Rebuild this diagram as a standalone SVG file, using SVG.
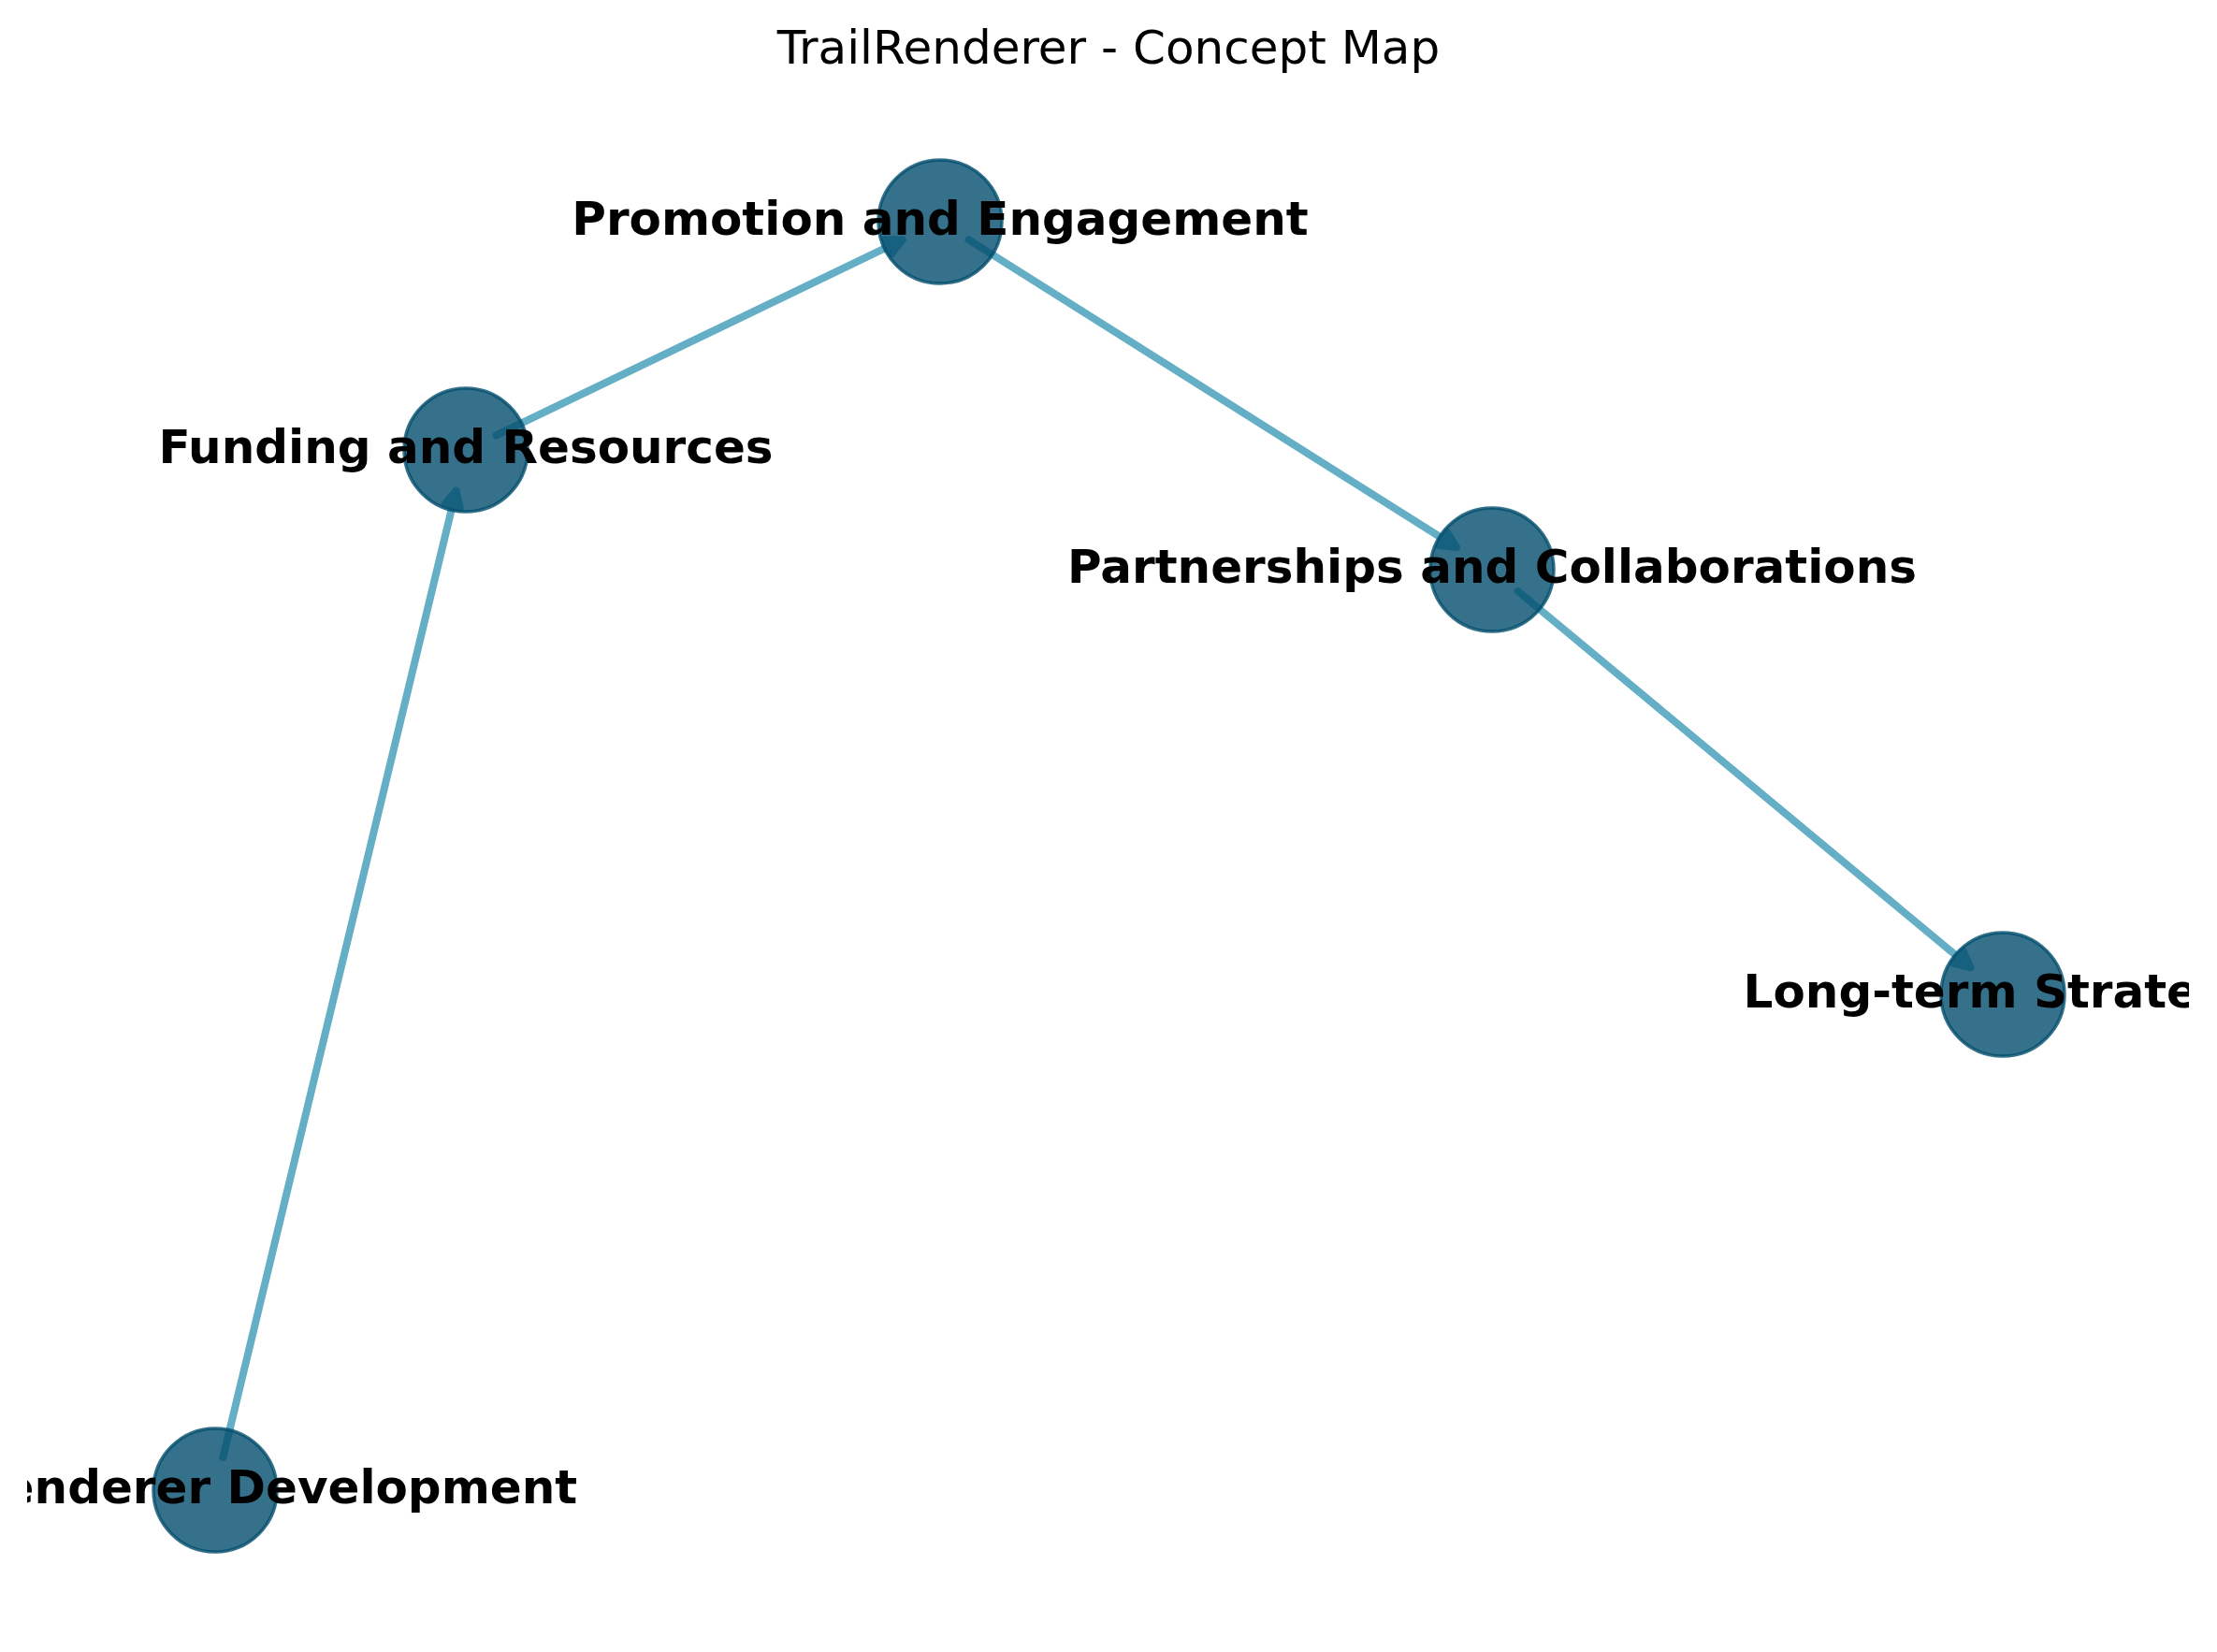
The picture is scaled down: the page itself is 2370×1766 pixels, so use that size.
<svg xmlns="http://www.w3.org/2000/svg" width="2370" height="1766" viewBox="0 0 2370 1766">
  <style>
    .edge { fill: none; stroke: #64aec6; stroke-width: 8; stroke-linecap: round; }
    .node { fill: #024e6d; fill-opacity: 0.8; stroke: #024e6d; stroke-opacity: 0.8; stroke-width: 3.5; }
    .label { font-family: "DejaVu Sans", "Liberation Sans", sans-serif; font-weight: bold; font-size: 50px; fill: #000; text-anchor: middle; }
    .title { font-family: "DejaVu Sans", "Liberation Sans", sans-serif; font-size: 50px; fill: #000; text-anchor: middle; }
  </style>
  <defs>
    <marker id="ah" markerUnits="userSpaceOnUse" orient="auto" markerWidth="40" markerHeight="40" refX="16.7" refY="0" overflow="visible">
      <path d="M0,-8.3 L16.7,0 L0,8.3 Z" fill="#64aec6" stroke="#64aec6" stroke-width="8" stroke-linejoin="round"/>
    </marker>
    <clipPath id="axclip">
      <rect x="29" y="0" width="2311" height="1766"/>
    </clipPath>
  </defs>
  <rect width="2370" height="1766" fill="#ffffff"/>
  <text class="title" x="1185" y="68">TrailRenderer - Concept Map</text>
  <g id="connectors">
    <line class="edge" x1="238.4" y1="1558" x2="487.5" y2="524.7" marker-end="url(#ah)"/>
    <line class="edge" x1="530.4" y1="465.4" x2="964.5" y2="256.5" marker-end="url(#ah)"/>
    <line class="edge" x1="1035.5" y1="256.2" x2="1556.9" y2="585" marker-end="url(#ah)"/>
    <line class="edge" x1="1622.7" y1="632" x2="2106.4" y2="1034.2" marker-end="url(#ah)"/>
  </g>
  <g id="node-promotion">
    <circle class="node" cx="1005" cy="237" r="66"/>
    <text class="label" x="1005" y="251" clip-path="url(#axclip)">Promotion and Engagement</text>
  </g>
  <g id="node-funding">
    <circle class="node" cx="498" cy="481" r="66"/>
    <text class="label" x="498" y="495" clip-path="url(#axclip)">Funding and Resources</text>
  </g>
  <g id="node-partnerships">
    <circle class="node" cx="1595" cy="609" r="66"/>
    <text class="label" x="1595" y="623" clip-path="url(#axclip)">Partnerships and Collaborations</text>
  </g>
  <g id="node-longterm">
    <circle class="node" cx="2141" cy="1063" r="66"/>
    <text class="label" x="2141" y="1077" clip-path="url(#axclip)">Long-term Strategy</text>
  </g>
  <g id="node-development">
    <circle class="node" cx="230" cy="1593" r="66"/>
    <text class="label" x="230" y="1607" clip-path="url(#axclip)">TrailRenderer Development</text>
  </g>
</svg>
